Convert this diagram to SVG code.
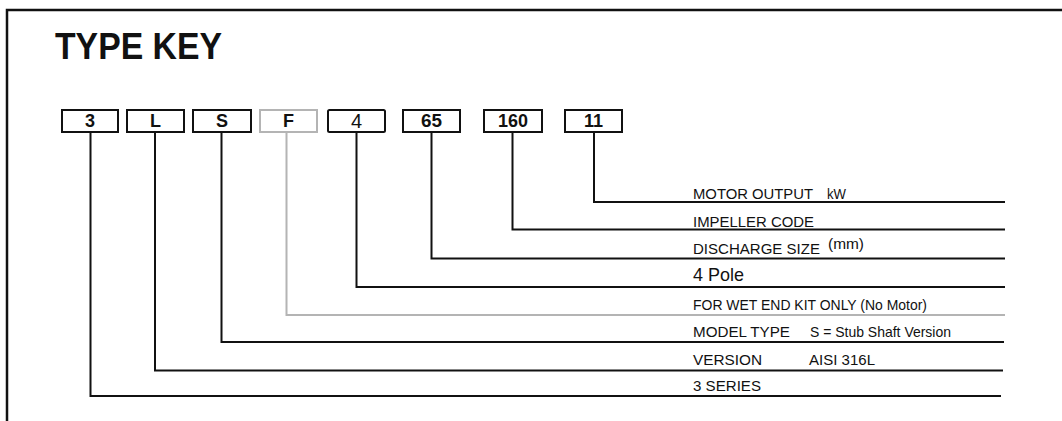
<svg xmlns="http://www.w3.org/2000/svg" width="1062" height="421" viewBox="0 0 1062 421">
<style>
.frame{fill:none;stroke:#111;stroke-width:2.5}
.box{fill:#fff;stroke:#111;stroke-width:2}
.boxg{fill:#fff;stroke:#b4b4b4;stroke-width:2}
.code{font-family:"Liberation Sans",Arial,sans-serif;font-weight:bold;font-size:18px;fill:#111;text-anchor:middle}
.lbl{font-family:"Liberation Sans",Arial,sans-serif;font-size:15.5px;fill:#111}
.sm{font-family:"Liberation Sans",Arial,sans-serif;font-size:14.5px;fill:#111}
.ln{fill:none;stroke:#111;stroke-width:2}
.lng{fill:none;stroke:#b4b4b4;stroke-width:2}
</style>
<rect width="1062" height="421" fill="#fff"/>
<g id="frame">
<path class="frame" d="M7,421 V10 H1062"/>
</g>
<text x="55" y="59" font-family="Liberation Sans,Arial,sans-serif" font-weight="bold" font-size="36" fill="#111" textLength="167" lengthAdjust="spacingAndGlyphs">TYPE KEY</text>
<g id="connectors">
<path class="ln" d="M594,132 V202 H1005"/>
<path class="ln" d="M512.5,132 V229.5 H1005"/>
<path class="ln" d="M431.5,132 V258.5 H1005"/>
<path class="ln" d="M356.5,132 V287 H1005"/>
<path class="lng" d="M286.5,132 V315 H1005"/>
<path class="ln" d="M221.5,132 V342 H1004"/>
<path class="ln" d="M155,132 V370.5 H1003"/>
<path class="ln" d="M90.5,132 V396 H1001"/>
</g>
<g id="n3"><rect class="box" x="62" y="110" width="56" height="22"/><text class="code" x="90" y="126.5">3</text></g>
<g id="nL"><rect class="box" x="127" y="110" width="57" height="22"/><text class="code" x="155.5" y="126.5">L</text></g>
<g id="nS"><rect class="box" x="193" y="110" width="58" height="22"/><text class="code" x="222" y="126.5">S</text></g>
<g id="nF"><rect class="boxg" x="260" y="110" width="57" height="22"/><text class="code" x="288.5" y="126.5">F</text></g>
<g id="n4"><rect class="box" x="328" y="110" width="57" height="22" rx="1.5" stroke-width="2.5"/><text x="356.5" y="128" font-family="Liberation Sans,Arial,sans-serif" font-size="20" fill="#111" text-anchor="middle">4</text></g>
<g id="n65"><rect class="box" x="403" y="110" width="57" height="22"/><text class="code" x="431.5" y="126.5" textLength="21" lengthAdjust="spacingAndGlyphs">65</text></g>
<g id="n160"><rect class="box" x="484" y="110" width="58" height="22"/><text class="code" x="513" y="126.5" textLength="30" lengthAdjust="spacingAndGlyphs">160</text></g>
<g id="n11"><rect class="box" x="565" y="110" width="57" height="22"/><text class="code" x="593.5" y="126.5">11</text></g>
<g id="labels">
<text class="lbl" x="693" y="199" textLength="120" lengthAdjust="spacingAndGlyphs">MOTOR OUTPUT</text>
<text class="lbl" x="827" y="199" textLength="19" lengthAdjust="spacingAndGlyphs">kW</text>
<text class="lbl" x="693" y="226.5" textLength="121" lengthAdjust="spacingAndGlyphs">IMPELLER CODE</text>
<text class="lbl" x="693" y="253.5" textLength="127" lengthAdjust="spacingAndGlyphs">DISCHARGE SIZE</text>
<text class="sm" x="828" y="249" textLength="36" lengthAdjust="spacingAndGlyphs">(mm)</text>
<text x="693" y="281" font-family="Liberation Sans,Arial,sans-serif" font-size="18.5" fill="#111" textLength="51" lengthAdjust="spacingAndGlyphs">4 Pole</text>
<text class="sm" x="693" y="310" textLength="234" lengthAdjust="spacingAndGlyphs">FOR WET END KIT ONLY (No Motor)</text>
<text class="lbl" x="693" y="337" textLength="97" lengthAdjust="spacingAndGlyphs">MODEL TYPE</text>
<text class="sm" x="810" y="337" textLength="141" lengthAdjust="spacingAndGlyphs">S = Stub Shaft Version</text>
<text class="lbl" x="693" y="365" textLength="69" lengthAdjust="spacingAndGlyphs">VERSION</text>
<text class="lbl" x="809" y="365" textLength="66" lengthAdjust="spacingAndGlyphs">AISI 316L</text>
<text class="lbl" x="693" y="390.5" textLength="68" lengthAdjust="spacingAndGlyphs">3 SERIES</text>
</g>
</svg>
